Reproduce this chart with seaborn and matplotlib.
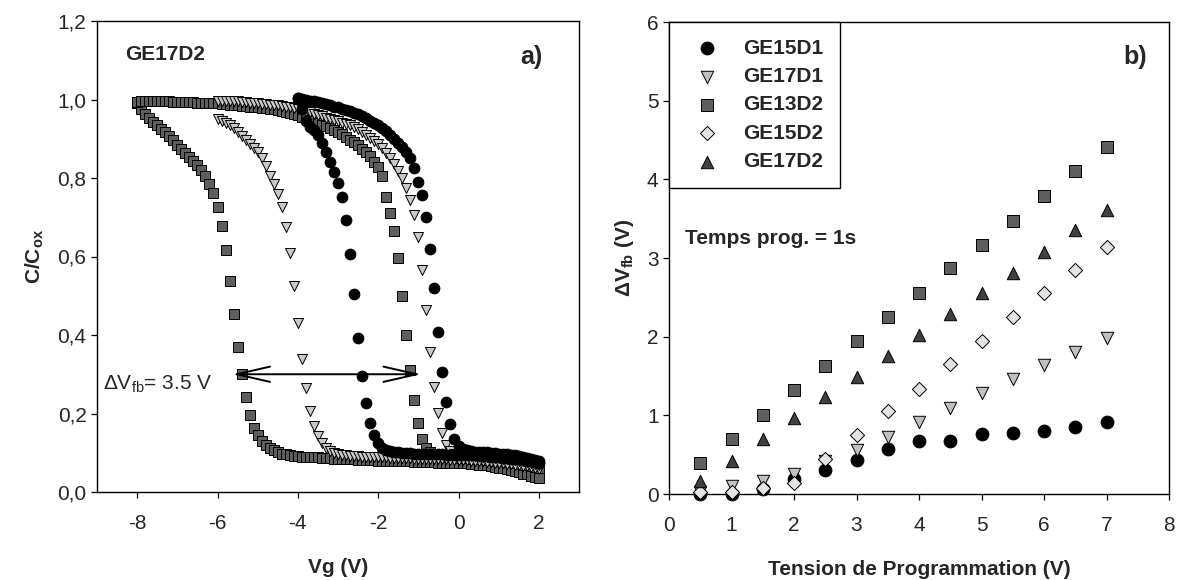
import numpy as np
import pandas as pd
import seaborn as sns
import matplotlib
matplotlib.use("Agg")
import matplotlib.pyplot as plt

# Font sizes
LBF = 15    # axis labels
TS = 15     # tick labels
TF = 15     # in-plot text
PF = 18     # panel letters

# ------------------------------------------------------------------
# a) C-V hysteresis loops, sample GE17D2 (forward / return sweeps)
# ------------------------------------------------------------------
vg_sq = [
    -8.0, -7.9, -7.8, -7.7, -7.6, -7.5, -7.4, -7.3, -7.2, -7.1,
    -7.0, -6.9, -6.8, -6.7, -6.6, -6.5, -6.4, -6.3, -6.2, -6.1,
    -6.0, -5.9, -5.8, -5.7, -5.6, -5.5, -5.4, -5.3, -5.2, -5.1,
    -5.0, -4.9, -4.8, -4.7, -4.6, -4.5, -4.4, -4.3, -4.2, -4.1,
    -4.0, -3.9, -3.8, -3.7, -3.6, -3.5, -3.4, -3.3, -3.2, -3.1,
    -3.0, -2.9, -2.8, -2.7, -2.6, -2.5, -2.4, -2.3, -2.2, -2.1,
    -2.0, -1.9, -1.8, -1.7, -1.6, -1.5, -1.4, -1.3, -1.2, -1.1,
    -1.0, -0.9, -0.8, -0.7, -0.6, -0.5, -0.4, -0.3, -0.2, -0.1,
    0.0, 0.1, 0.2, 0.3, 0.4, 0.5, 0.6, 0.7, 0.8, 0.9,
    1.0, 1.1, 1.2, 1.3, 1.4, 1.5, 1.6, 1.7, 1.8, 1.9,
    2.0]
vg_tri = vg_sq[20:]    # -6 .. 2 V
vg_circ = vg_sq[40:]   # -4 .. 2 V

c_sq_fwd = [
    0.990, 0.975, 0.962, 0.952, 0.942, 0.934, 0.926, 0.917, 0.907, 0.896,
    0.885, 0.874, 0.863, 0.853, 0.843, 0.834, 0.820, 0.805, 0.785, 0.763,
    0.727, 0.678, 0.617, 0.538, 0.453, 0.370, 0.300, 0.241, 0.196, 0.164,
    0.145, 0.130, 0.120, 0.112, 0.106, 0.101, 0.098, 0.096, 0.094, 0.092,
    0.091, 0.090, 0.090, 0.089, 0.088, 0.088, 0.087, 0.086, 0.086, 0.085,
    0.085, 0.084, 0.084, 0.083, 0.083, 0.082, 0.082, 0.081, 0.081, 0.081,
    0.080, 0.080, 0.080, 0.079, 0.079, 0.079, 0.078, 0.078, 0.078, 0.077,
    0.077, 0.077, 0.076, 0.076, 0.076, 0.075, 0.075, 0.075, 0.074, 0.074,
    0.074, 0.073, 0.073, 0.072, 0.071, 0.070, 0.069, 0.068, 0.066, 0.064,
    0.062, 0.060, 0.058, 0.056, 0.053, 0.050, 0.047, 0.045, 0.042, 0.039,
    0.036]
c_sq_rev = [
    0.993, 0.995, 0.996, 0.996, 0.996, 0.996, 0.995, 0.995, 0.995, 0.994,
    0.994, 0.994, 0.993, 0.993, 0.993, 0.992, 0.992, 0.991, 0.991, 0.990,
    0.990, 0.989, 0.988, 0.987, 0.986, 0.985, 0.984, 0.983, 0.982, 0.981,
    0.980, 0.979, 0.978, 0.976, 0.975, 0.973, 0.971, 0.969, 0.966, 0.963,
    0.960, 0.956, 0.952, 0.948, 0.944, 0.940, 0.936, 0.932, 0.928, 0.923,
    0.918, 0.912, 0.905, 0.898, 0.891, 0.883, 0.874, 0.865, 0.855, 0.842,
    0.828, 0.805, 0.752, 0.712, 0.665, 0.595, 0.500, 0.400, 0.310, 0.235,
    0.175, 0.135, 0.112, 0.102, 0.097, 0.094, 0.092, 0.090, 0.089, 0.088,
    0.087, 0.086, 0.086, 0.085, 0.085, 0.084, 0.083, 0.082, 0.081, 0.080,
    0.079, 0.078, 0.077, 0.076, 0.074, 0.072, 0.070, 0.068, 0.066, 0.063,
    0.060]

c_tri_fwd = [
    0.950, 0.945, 0.940, 0.935, 0.928, 0.918, 0.907, 0.897, 0.887, 0.877,
    0.865, 0.850, 0.830, 0.805, 0.785, 0.760, 0.725, 0.675, 0.610, 0.525,
    0.430, 0.340, 0.265, 0.207, 0.168, 0.143, 0.124, 0.112, 0.104, 0.099,
    0.096, 0.094, 0.093, 0.092, 0.091, 0.091, 0.090, 0.090, 0.089, 0.089,
    0.088, 0.088, 0.088, 0.087, 0.087, 0.087, 0.086, 0.086, 0.086, 0.085,
    0.085, 0.085, 0.084, 0.084, 0.084, 0.083, 0.083, 0.083, 0.082, 0.082,
    0.082, 0.081, 0.081, 0.080, 0.080, 0.079, 0.078, 0.077, 0.076, 0.075,
    0.074, 0.073, 0.072, 0.071, 0.070, 0.068, 0.067, 0.065, 0.063, 0.061,
    0.058]
c_tri_rev = [
    0.995, 0.995, 0.995, 0.995, 0.995, 0.995, 0.994, 0.993, 0.992, 0.991,
    0.990, 0.989, 0.988, 0.987, 0.986, 0.985, 0.984, 0.982, 0.980, 0.978,
    0.976, 0.974, 0.971, 0.968, 0.964, 0.960, 0.957, 0.953, 0.950, 0.947,
    0.944, 0.941, 0.938, 0.934, 0.929, 0.924, 0.918, 0.910, 0.902, 0.894,
    0.886, 0.876, 0.864, 0.850, 0.836, 0.818, 0.800, 0.775, 0.744, 0.706,
    0.650, 0.566, 0.464, 0.357, 0.268, 0.202, 0.151, 0.120, 0.105, 0.098,
    0.095, 0.094, 0.093, 0.092, 0.092, 0.091, 0.090, 0.089, 0.088, 0.087,
    0.086, 0.085, 0.084, 0.083, 0.081, 0.080, 0.078, 0.076, 0.074, 0.072,
    0.070]

c_circ_fwd = [
    1.003, 0.975, 0.945, 0.930, 0.922, 0.910, 0.890, 0.865, 0.840, 0.816,
    0.788, 0.751, 0.693, 0.606, 0.504, 0.392, 0.296, 0.226, 0.175, 0.145,
    0.125, 0.113, 0.107, 0.104, 0.102, 0.101, 0.100, 0.099, 0.099, 0.098,
    0.098, 0.097, 0.097, 0.097, 0.096, 0.096, 0.096, 0.095, 0.095, 0.095,
    0.094, 0.094, 0.094, 0.093, 0.093, 0.092, 0.092, 0.091, 0.090, 0.089,
    0.088, 0.087, 0.086, 0.085, 0.084, 0.083, 0.082, 0.080, 0.078, 0.076,
    0.074]
c_circ_rev = [
    1.003, 1.001, 0.999, 0.997, 0.995, 0.993, 0.991, 0.988, 0.985, 0.982,
    0.980, 0.977, 0.974, 0.970, 0.966, 0.962, 0.957, 0.952, 0.946, 0.940,
    0.934, 0.927, 0.919, 0.910, 0.900, 0.890, 0.879, 0.866, 0.850, 0.826,
    0.790, 0.757, 0.700, 0.620, 0.519, 0.407, 0.306, 0.230, 0.173, 0.134,
    0.118, 0.110, 0.106, 0.104, 0.103, 0.103, 0.102, 0.101, 0.100, 0.099,
    0.098, 0.097, 0.096, 0.095, 0.093, 0.091, 0.089, 0.087, 0.084, 0.081,
    0.078]

yticks_a = [0.0, 0.2, 0.4, 0.6, 0.8, 1.0, 1.2]
ytick_labels_a = ['0,0', '0,2', '0,4', '0,6', '0,8', '1,0', '1,2']
xticks_a = [-8, -6, -4, -2, 0, 2]

# ------------------------------------------------------------------
# b) flat-band shift vs programming voltage (t = 1 s)
# ------------------------------------------------------------------
v_prog = [0.5, 1.0, 1.5, 2.0, 2.5, 3.0, 3.5, 4.0, 4.5, 5.0, 5.5, 6.0, 6.5, 7.0]
dvfb_GE15D1 = [0.00, 0.00, 0.06, 0.19, 0.31, 0.43, 0.57, 0.67, 0.67, 0.76, 0.77, 0.80, 0.85, 0.91]
dvfb_GE17D1 = [0.02, 0.10, 0.16, 0.26, 0.42, 0.56, 0.73, 0.91, 1.09, 1.28, 1.46, 1.64, 1.80, 1.98]
dvfb_GE13D2 = [0.40, 0.70, 1.01, 1.32, 1.63, 1.94, 2.25, 2.55, 2.87, 3.17, 3.47, 3.79, 4.10, 4.41]
dvfb_GE15D2 = [0.02, 0.03, 0.08, 0.14, 0.44, 0.75, 1.05, 1.34, 1.65, 1.94, 2.25, 2.55, 2.85, 3.14]
dvfb_GE17D2 = [0.17, 0.42, 0.70, 0.96, 1.23, 1.49, 1.75, 2.02, 2.29, 2.55, 2.81, 3.08, 3.35, 3.61]

samples = ['GE15D1', 'GE17D1', 'GE13D2', 'GE15D2', 'GE17D2']
series_b = [dvfb_GE15D1, dvfb_GE17D1, dvfb_GE13D2, dvfb_GE15D2, dvfb_GE17D2]
markers_b = ['o', 'v', 's', 'D', '^']
colors_b = ['#000000', '#c0c0c0', '#5e5e5e', '#e4e4e4', '#404040']
sizes_b = [85, 80, 72, 52, 80]

# ==================================================================
sns.set_style('ticks')
plt.rcParams['font.family'] = ['Liberation Sans', 'DejaVu Sans']
plt.rcParams['axes.unicode_minus'] = False
plt.rcParams['mathtext.fontset'] = 'custom'
plt.rcParams['mathtext.rm'] = 'Liberation Sans'
plt.rcParams['mathtext.it'] = 'Liberation Sans:italic'
plt.rcParams['mathtext.bf'] = 'Liberation Sans:bold'

fig = plt.figure(figsize=(12, 5.8), dpi=100)
ax1 = fig.add_axes([97 / 1200, 88 / 580, 482 / 1200, 471 / 580])
ax2 = fig.add_axes([669 / 1200, 86 / 580, 500 / 1200, 472 / 580])

# --- panel a ---
df_sq = pd.DataFrame({'Vg': vg_sq + vg_sq, 'C': c_sq_fwd + c_sq_rev})
df_tri = pd.DataFrame({'Vg': vg_tri + vg_tri, 'C': c_tri_fwd + c_tri_rev})
df_circ = pd.DataFrame({'Vg': vg_circ + vg_circ, 'C': c_circ_fwd + c_circ_rev})

sns.scatterplot(data=df_sq, x='Vg', y='C', ax=ax1, marker='s', color='#5e5e5e',
                edgecolor='black', linewidth=0.7, s=46, zorder=3)
sns.scatterplot(data=df_tri, x='Vg', y='C', ax=ax1, marker='v', color='#c8c8c8',
                edgecolor='black', linewidth=0.7, s=52, zorder=3)
sns.scatterplot(data=df_circ, x='Vg', y='C', ax=ax1, marker='o', color='black',
                edgecolor='black', linewidth=0.7, s=60, zorder=3)

ax1.set_xlim(-9, 3)
ax1.set_ylim(0, 1.2)
ax1.set_xticks(xticks_a)
ax1.set_yticks(yticks_a)
ax1.set_yticklabels(ytick_labels_a)
ax1.set_xlabel('Vg (V)', fontsize=LBF, fontweight='bold', labelpad=18)
ax1.set_ylabel(r'C/C$_{\mathbf{ox}}$', fontsize=LBF, fontweight='bold', labelpad=8)

ax1.text(0.058, 0.929, 'GE17D2', transform=ax1.transAxes, fontsize=TF,
         fontweight='bold', ha='left', va='center')
ax1.text(0.925, 0.924, 'a)', transform=ax1.transAxes, fontsize=PF,
         fontweight='bold', ha='right', va='center')
ax1.annotate('', xy=(-0.93, 0.3), xytext=(-5.63, 0.3),
             arrowprops=dict(arrowstyle='<->,head_length=2.4,head_width=0.55',
                             lw=1.4, color='black', shrinkA=0, shrinkB=0,
                             mutation_scale=10),
             zorder=4)
ax1.text(-8.86, 0.26, r'ΔV$_{\mathrm{fb}}$= 3.5 V', fontsize=TF,
         ha='left', va='baseline')

# --- panel b ---
for name, vals, mk, col, sz in zip(samples, series_b, markers_b, colors_b, sizes_b):
    df = pd.DataFrame({'Vprog': v_prog, 'dVfb': vals})
    sns.scatterplot(data=df, x='Vprog', y='dVfb', ax=ax2, marker=mk, color=col,
                    edgecolor='black', linewidth=0.7, s=sz, label=name,
                    clip_on=False, zorder=3)

ax2.set_xlim(0, 8)
ax2.set_ylim(0, 6)
ax2.set_xticks(range(0, 9))
ax2.set_yticks(range(0, 7))
ax2.set_xlabel('Tension de Programmation (V)', fontsize=LBF, fontweight='bold', labelpad=18)
ax2.set_ylabel(r'ΔV$_{\mathbf{fb}}$ (V)', fontsize=LBF, fontweight='bold', labelpad=8)

leg = ax2.legend(loc='upper left', bbox_to_anchor=(0, 1), borderaxespad=0,
                 frameon=True, fancybox=False, edgecolor='black', framealpha=1,
                 prop={'weight': 'bold', 'size': TF}, handlelength=2.0,
                 handletextpad=0.75, borderpad=0.8, labelspacing=0.45,
                 scatterpoints=1)
leg.get_frame().set_linewidth(1.0)

ax2.text(0.955, 0.926, 'b)', transform=ax2.transAxes, fontsize=PF,
         fontweight='bold', ha='right', va='center')
ax2.text(0.032, 0.542, 'Temps prog. = 1s', transform=ax2.transAxes, fontsize=TF,
         fontweight='bold', ha='left', va='center')

for ax in (ax1, ax2):
    for sp in ax.spines.values():
        sp.set_color('black')
        sp.set_linewidth(1.0)
    ax.tick_params(which='both', direction='out', length=4.5, width=0.9,
                   labelsize=TS, top=False, right=False, color='black')
    ax.tick_params(axis='x', pad=11)
    ax.tick_params(axis='y', pad=3)

fig.savefig('out.png', dpi=100)
